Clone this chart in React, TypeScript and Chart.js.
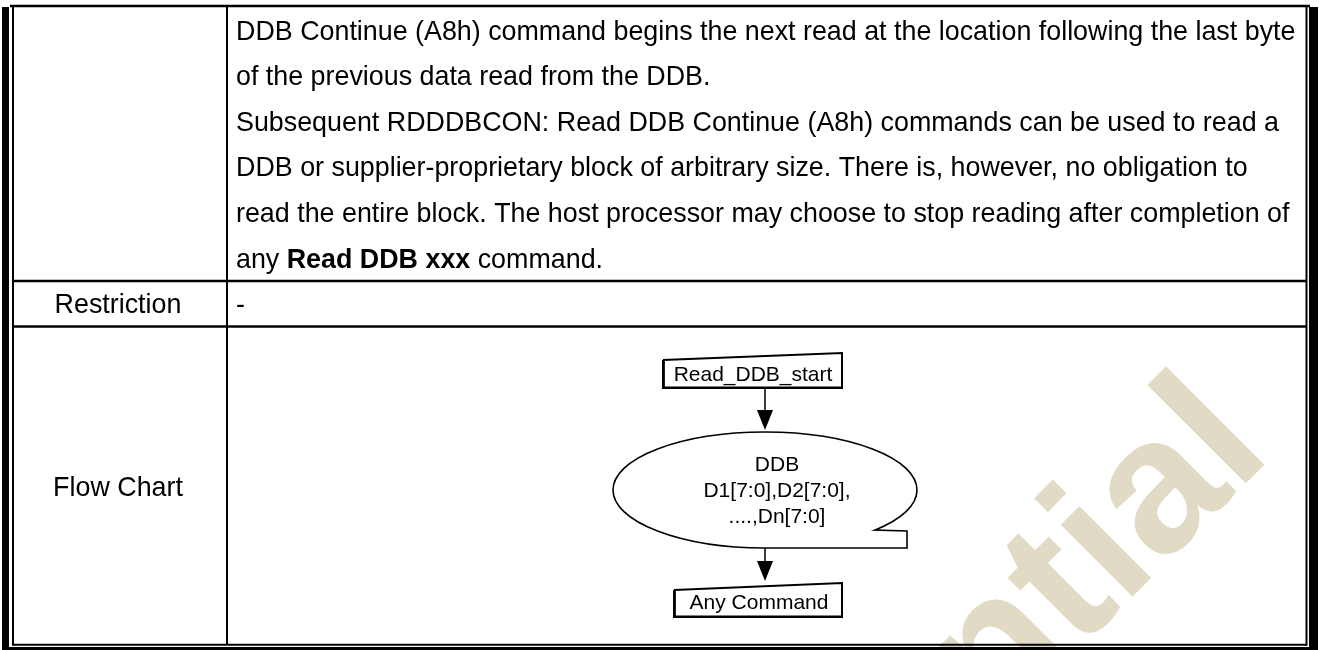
import React, { useEffect, useRef } from "react";
import { Chart, registerables } from "chart.js";

Chart.register(...registerables);

// ---------- content ----------
const descriptionLines: string[] = [
  "DDB Continue (A8h) command begins the next read at the location following the last byte",
  "of the previous data read from the DDB.",
  "Subsequent RDDDBCON: Read DDB Continue (A8h) commands can be used to read a",
  "DDB or supplier-proprietary block of arbitrary size. There is, however, no obligation to",
  "read the entire block. The host processor may choose to stop reading after completion of",
  "any **Read DDB xxx** command.",
];
const rowLabels: string[] = ["", "Restriction", "Flow Chart"];
const rowValues: string[] = ["", "-", ""];
const startNodeLabel = "Read_DDB_start";
const dataNodeLines: string[] = ["DDB", "D1[7:0],D2[7:0],", "....,Dn[7:0]"];
const endNodeLabel = "Any Command";
const watermarkText = "Confidential";

// ---------- layout (page units = pixels) ----------
const PAGE_W = 1319;
const PAGE_H = 650;
const FONT = '"Liberation Sans", Arial, Helvetica, sans-serif';

const L = {
  top: 6,
  innerLeft: 13,
  innerRight: 1306.5,
  colX: 227,
  row1Bottom: 281,
  row2Bottom: 326.5,
  innerBottom: 644.8,
  textX: 236,
  bodySize: 26.85,
  firstCapCenter: 30,
  lineGap: 45.6,
  labelX: 118,
  flowSize: 21,
};

const startBox = { x1: 663, x2: 842, topL: 360, topR: 353, bottom: 388, tx: 753, ty: 373 };
const endBox = { x1: 674, x2: 842, topL: 590, topR: 583, bottom: 617, tx: 759, ty: 601 };
const arrowX = 765;
const dataShape = { cx: 765, cy: 490, rx: 152, ry: 58, notchX: 907, notchTopY: 531, tx: 777, ty: 489, lineGap: 26 };
const arrow1 = { from: 388, tip: 430 };
const arrow2 = { from: 548, tip: 581 };
const headH = 20;
const headHalfW = 8;
const watermarkAnchor = { x: 1274, y: 455, size: 192 };

type Rule = { pts: [number, number][]; w: number };

const rules: Rule[] = [
  // outer frame
  { pts: [[10, L.top], [1310, L.top]], w: 2.5 },
  { pts: [[5.5, 7], [5.5, PAGE_H]], w: 7 },
  { pts: [[L.innerLeft, L.top], [L.innerLeft, 645.8]], w: 2 },
  { pts: [[L.innerRight, L.top], [L.innerRight, 645.8]], w: 2 },
  { pts: [[1313.5, 7], [1313.5, PAGE_H]], w: 9 },
  { pts: [[L.innerLeft, L.innerBottom], [L.innerRight, L.innerBottom]], w: 2 },
  { pts: [[9, 648.5], [1310, 648.5]], w: 3 },
  // inner grid
  { pts: [[L.colX, L.top], [L.colX, L.innerBottom]], w: 2 },
  { pts: [[L.innerLeft, L.row1Bottom], [L.innerRight, L.row1Bottom]], w: 2.5 },
  { pts: [[L.innerLeft, L.row2Bottom], [L.innerRight, L.row2Bottom]], w: 2.5 },
  // flow chart boxes
  {
    pts: [
      [startBox.x1, startBox.topL],
      [startBox.x2, startBox.topR],
      [startBox.x2, startBox.bottom],
      [startBox.x1, startBox.bottom],
      [startBox.x1, startBox.topL],
    ],
    w: 2,
  },
  {
    pts: [
      [endBox.x1, endBox.topL],
      [endBox.x2, endBox.topR],
      [endBox.x2, endBox.bottom],
      [endBox.x1, endBox.bottom],
      [endBox.x1, endBox.topL],
    ],
    w: 2,
  },
  // box shadows (left + bottom heavier)
  { pts: [[startBox.x1 + 1, startBox.topL], [startBox.x1 + 1, startBox.bottom - 1], [startBox.x2, startBox.bottom - 1]], w: 1 },
  { pts: [[endBox.x1 + 1, endBox.topL], [endBox.x1 + 1, endBox.bottom - 1], [endBox.x2, endBox.bottom - 1]], w: 1 },
  // connectors
  { pts: [[arrowX, arrow1.from], [arrowX, arrow1.tip - headH + 2]], w: 1.5 },
  { pts: [[arrowX, arrow2.from], [arrowX, arrow2.tip - headH + 2]], w: 1.5 },
];

function drawSegments(ctx: CanvasRenderingContext2D, line: string, x: number, y: number, size: number) {
  const parts = line.split("**");
  let cx = x;
  parts.forEach((p, i) => {
    if (!p) return;
    ctx.font = `${i % 2 === 1 ? "bold " : ""}${size}px ${FONT}`;
    ctx.textAlign = "left";
    ctx.fillText(p, cx, y);
    cx += ctx.measureText(p).width;
  });
}

const watermarkPlugin = {
  id: "watermark",
  beforeDatasetsDraw(chart: any) {
    const { ctx, scales } = chart;
    const px = scales.x.getPixelForValue(watermarkAnchor.x);
    const py = scales.y.getPixelForValue(watermarkAnchor.y);
    ctx.save();
    ctx.translate(px, py);
    ctx.rotate(-Math.PI / 4);
    ctx.font = `bold ${watermarkAnchor.size}px ${FONT}`;
    ctx.fillStyle = "#E1DBC6";
    ctx.textAlign = "right";
    ctx.textBaseline = "alphabetic";
    ctx.fillText(watermarkText, 0, 0);
    ctx.restore();
  },
};

const contentPlugin = {
  id: "content",
  afterDatasetsDraw(chart: any) {
    const { ctx, scales } = chart;
    const X = (v: number) => scales.x.getPixelForValue(v);
    const Y = (v: number) => scales.y.getPixelForValue(v);
    ctx.save();
    ctx.fillStyle = "#000";
    ctx.strokeStyle = "#000";
    ctx.textBaseline = "alphabetic";

    // description text
    const bs = L.bodySize;
    descriptionLines.forEach((line, i) => {
      const capCenter = L.firstCapCenter + i * L.lineGap;
      drawSegments(ctx, line, X(L.textX), Y(capCenter + 0.358 * bs), bs);
    });

    // row labels / values
    const rowCenters = [0, (L.row1Bottom + L.row2Bottom) / 2, (L.row2Bottom + L.innerBottom) / 2 + 1];
    rowLabels.forEach((lab, i) => {
      if (!lab) return;
      ctx.font = `${bs}px ${FONT}`;
      ctx.textAlign = "center";
      ctx.fillText(lab, X(L.labelX), Y(rowCenters[i] + 0.358 * bs));
    });
    rowValues.forEach((val, i) => {
      if (!val) return;
      ctx.font = `${bs}px ${FONT}`;
      ctx.textAlign = "left";
      ctx.fillText(val, X(L.textX), Y(rowCenters[i] + 0.358 * bs));
    });

    // data shape (sequential storage style ellipse)
    const d = dataShape;
    const sx = Math.abs(X(1) - X(0));
    const sy = Math.abs(Y(1) - Y(0));
    const cosT = (d.notchX - 30 - d.cx) / d.rx;
    const endAng = Math.atan2((d.notchTopY - d.cy) / d.ry, cosT);
    ctx.lineWidth = 1.6;
    ctx.beginPath();
    ctx.ellipse(X(d.cx), Y(d.cy), d.rx * sx, d.ry * sy, 0, Math.PI / 2, Math.PI * 2 + endAng, false);
    ctx.lineTo(X(d.notchX), Y(d.notchTopY));
    ctx.lineTo(X(d.notchX), Y(d.cy + d.ry));
    ctx.lineTo(X(d.cx), Y(d.cy + d.ry));
    ctx.stroke();

    // arrow heads
    [arrow1, arrow2].forEach((a) => {
      ctx.beginPath();
      ctx.moveTo(X(arrowX - headHalfW), Y(a.tip - headH));
      ctx.lineTo(X(arrowX + headHalfW), Y(a.tip - headH));
      ctx.lineTo(X(arrowX), Y(a.tip));
      ctx.closePath();
      ctx.fill();
    });

    // flow chart text
    const fs = L.flowSize;
    ctx.font = `${fs}px ${FONT}`;
    ctx.textAlign = "center";
    ctx.fillText(startNodeLabel, X(startBox.tx), Y(startBox.ty + 0.358 * fs));
    ctx.fillText(endNodeLabel, X(endBox.tx), Y(endBox.ty + 0.358 * fs));
    dataNodeLines.forEach((t, i) => {
      const cy = d.ty + (i - (dataNodeLines.length - 1) / 2) * d.lineGap;
      ctx.fillText(t, X(d.tx), Y(cy + 0.358 * fs));
    });

    ctx.restore();
  },
};

export default function App() {
  const canvasRef = useRef<HTMLCanvasElement | null>(null);

  useEffect(() => {
    const canvas = canvasRef.current;
    if (!canvas) return;
    const chart = new Chart(canvas, {
      type: "scatter",
      data: {
        datasets: rules.map((r) => ({
          type: "line" as const,
          data: r.pts.map(([x, y]) => ({ x, y })),
          borderColor: "#000",
          borderWidth: r.w,
          pointRadius: 0,
          pointHoverRadius: 0,
          showLine: true,
          fill: false,
          tension: 0,
          borderCapStyle: "butt" as const,
          borderJoinStyle: "miter" as const,
          clip: false as any,
        })),
      },
      options: {
        responsive: false,
        animation: false,
        events: [],
        layout: { padding: 0 },
        plugins: { legend: { display: false }, tooltip: { enabled: false } },
        scales: {
          x: { type: "linear", min: 0, max: PAGE_W, display: false },
          y: { type: "linear", min: 0, max: PAGE_H, reverse: true, display: false },
        },
      },
      plugins: [watermarkPlugin, contentPlugin],
    });
    return () => chart.destroy();
  }, []);

  return (
    <div style={{ position: "absolute", left: 0, top: 0, width: PAGE_W, height: PAGE_H, background: "#fff" }}>
      <canvas ref={canvasRef} width={PAGE_W} height={PAGE_H} style={{ display: "block" }} />
    </div>
  );
}
